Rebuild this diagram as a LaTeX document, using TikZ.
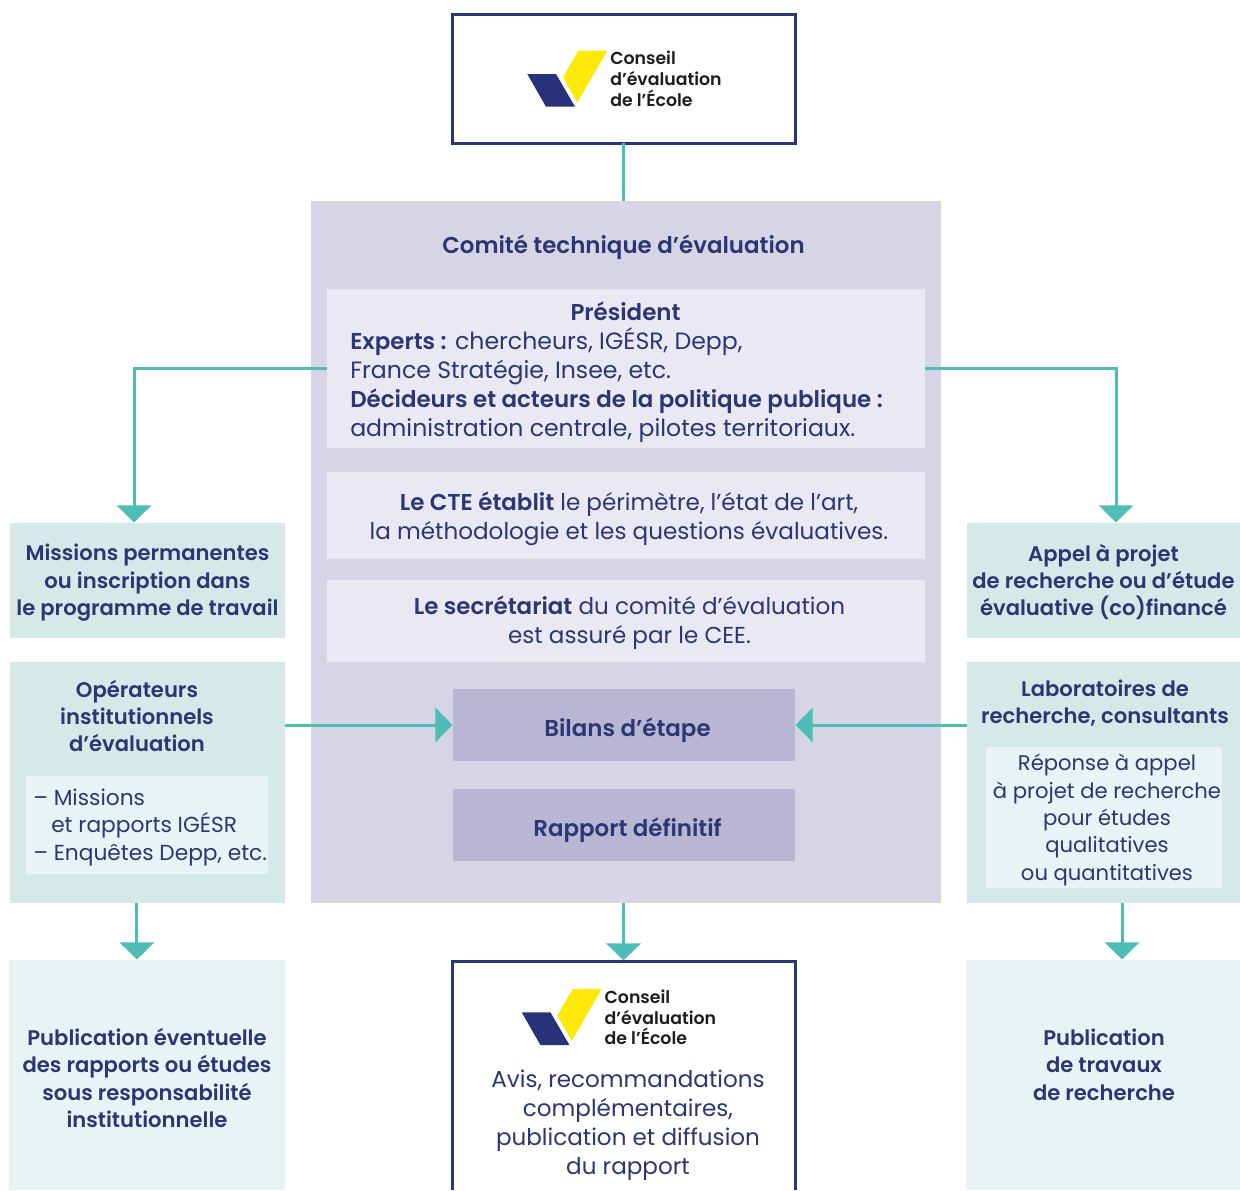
\documentclass[tikz,border=0pt]{standalone}
\usepackage{fontspec}
\setmainfont{Poppins}[BoldFont={Poppins SemiBold}]
\usetikzlibrary{arrows.meta,calc}
\definecolor{navy}{HTML}{2B3674}
\definecolor{logonavy}{HTML}{27327A}
\definecolor{logoyellow}{HTML}{FFE90A}
\definecolor{teal}{HTML}{4DBDB6}
\definecolor{ctebg}{HTML}{D6D4E5}
\definecolor{ctelight}{HTML}{E9E8F3}
\definecolor{ctedark}{HTML}{B9B6D3}
\definecolor{greenA}{HTML}{D5EAE8}
\definecolor{greenB}{HTML}{E7F3F4}
\definecolor{logotext}{HTML}{1D1D1B}
\newcommand{\bigfont}{\fontsize{17.7pt}{21.75pt}\selectfont}
\newcommand{\midfont}{\fontsize{17.3pt}{21.75pt}\selectfont}
\newcommand{\bigbold}{\fontsize{17.2pt}{21.75pt}\selectfont\bfseries}
\newcommand{\bb}[1]{{\bigbold #1}}
\newcommand{\sidefont}{\fontsize{15.85pt}{20.6pt}\selectfont}
\newcommand{\listfont}{\fontsize{16.3pt}{20.3pt}\selectfont}
\newcommand{\logofont}{\fontsize{13pt}{15.6pt}\selectfont}
\newcommand{\bx}[6]{\node[#6,minimum width={(#4-#2)*0.75pt},minimum height={(#5-#3)*0.75pt}] (#1) at ({(#2+#4)/2},{(#3+#5)/2}) {};}
\newcommand{\logo}[3]{%
  \begin{scope}[shift={(#2,#3)}]
    \fill[logonavy] (527.3,74) -- (556,74) -- (575,106.7) -- (546,106.7) -- cycle;
    \fill[logoyellow] (578.3,50.7) -- (607.3,50.7) -- (577.3,102.7) -- (563,77.3) -- cycle;
    \node[anchor=west,inner sep=0pt,align=left,text=logotext,font=\logofont\bfseries] (#1) at (610,79) {Conseil\\d’évaluation\\de l’École};
  \end{scope}}
\tikzset{
  x=0.75pt,y=-0.75pt,
  box/.style={inner sep=0pt,outer sep=0pt,align=center,text=navy},
  framed/.style={box,fill=white,draw=navy,line width=2.25pt},
  plainwhite/.style={box,fill=white},
  ctein/.style={box,fill=ctelight},
  ctestep/.style={box,fill=ctedark},
  sideA/.style={box,fill=greenA},
  sideB/.style={box,fill=greenB},
  txt/.style={inner sep=0pt,text=navy,align=center},
  bigtxt/.style={txt,font=\bigfont},
  midtxt/.style={txt,font=\midfont},
  boldtxt/.style={txt,font=\bigbold},
  sidetxt/.style={txt,font=\sidefont\bfseries},
  link/.style={draw=teal,line width=2.25pt},
  arrowdown/.style={link,-{Triangle[width=25.5pt,length=12.75pt,sep=0.4pt]}},
}
\begin{document}
\begin{tikzpicture}
\useasboundingbox (0,0) rectangle (1240,1190);
% main boxes
\bx{cee}{452}{14}{795}{143}{framed}
\bx{cte}{311}{201}{941}{903}{box,fill=ctebg}
\node[boldtxt] (ctetitle) at (623.5,247) {Comité technique d’évaluation};
\bx{pres}{327}{289}{925}{448}{ctein}
\node[boldtxt] (prestitle) at (625.5,311) {Président};
\node[bigtxt,anchor=north west,align=left] (prestext) at (350,327) {\bb{Experts :} chercheurs, IGÉSR, Depp,\\France Stratégie, Insee, etc.\\\bb{Décideurs et acteurs de la politique publique :}\\administration centrale, pilotes territoriaux.};
\bx{etablit}{327}{472}{925}{559}{ctein}
\node[midtxt] (etablittext) at (629,518.5) {\bb{Le CTE établit} le périmètre, l’état de l’art,\\la méthodologie et les questions évaluatives.};
\bx{secr}{327}{580}{925}{662}{ctein}
\node[midtxt] (secrtext) at (629.5,622.5) {\bb{Le secrétariat} du comité d’évaluation\\est assuré par le CEE.};
\bx{bilans}{453}{689}{795}{761}{ctestep}
\node[boldtxt] (bilanstext) at (627.5,730) {Bilans d’étape};
\bx{rapport}{453}{789}{795}{861}{ctestep}
\node[boldtxt] (rapporttext) at (627.5,830) {Rapport définitif};
% left
\bx{missions}{10}{523}{285}{638}{sideA}
\node[sidetxt] (missionstext) at (147.5,583) {Missions permanentes\\ou inscription dans\\le programme de travail};
\bx{oper}{10}{662}{285}{903}{sideA}
\node[sidetxt] (opertext) at (137,716) {Opérateurs\\institutionnels\\d’évaluation};
\bx{operin}{26}{776}{268}{874}{box,fill=greenB}
\node[txt,anchor=west,align=left,font=\listfont] (operlist) at (33,827.5) {– Missions\\\hspace*{13.5pt}et rapports IGÉSR\\– Enquêtes Depp, etc.};
\bx{pubg}{9}{960}{285}{1190}{sideB}
\node[sidetxt] (pubgtext) at (147,1078) {Publication éventuelle\\des rapports ou études\\sous responsabilité\\institutionnelle};
% right
\bx{appel}{967}{523}{1240}{638}{sideA}
\node[sidetxt] (appeltext) at (1103.5,582) {Appel à projet\\de recherche ou d’étude\\évaluative (co)financé};
\bx{lab}{967}{662}{1240}{903}{sideA}
\node[sidetxt] (labtext) at (1105,703) {Laboratoires de\\recherche, consultants};
\bx{labin}{986}{747}{1222}{888}{box,fill=greenB}
\node[txt,font=\sidefont] (labintext) at (1107,820) {Réponse à appel\\à projet de recherche\\pour études\\qualitatives\\ou quantitatives};
\bx{pubd}{966}{960}{1240}{1190}{sideB}
\node[sidetxt] (pubdtext) at (1104,1064.5) {Publication\\de travaux\\de recherche};
% bottom centre, open at the page edge
\bx{avis}{452}{961}{795}{1190}{plainwhite}
\draw[navy,line width=2.25pt] (avis.south west) |- (avis.north east) -- (avis.south east);
\node[midtxt] (avistext) at (628,1125) {Avis, recommandations\\complémentaires,\\publication et diffusion\\du rapport};
% logos
\logo{logoa}{0}{0}
\logo{logob}{-5.6}{938.3}
% connectors
\draw[link] (cee.south) -- (cee.south |- cte.north);
\draw[arrowdown] (pres.west |- 0,368) -| ([xshift=-10.1pt]missions.north);
\draw[arrowdown] (pres.east |- 0,368) -| ([xshift=9.4pt]appel.north);
\draw[arrowdown] (avis.north |- cte.south) -- (avis.north);
\draw[arrowdown] ([xshift=-7.9pt]oper.south) -- ([xshift=-7.9pt]pubg.north -| oper.south);
\draw[arrowdown] ([xshift=13.9pt]lab.south) -- ([xshift=13.9pt]pubd.north -| lab.south);
\draw[arrowdown] (oper.east |- bilans.west) -- (bilans.west);
\draw[arrowdown] (lab.west |- bilans.east) -- (bilans.east);
\end{tikzpicture}
\end{document}
